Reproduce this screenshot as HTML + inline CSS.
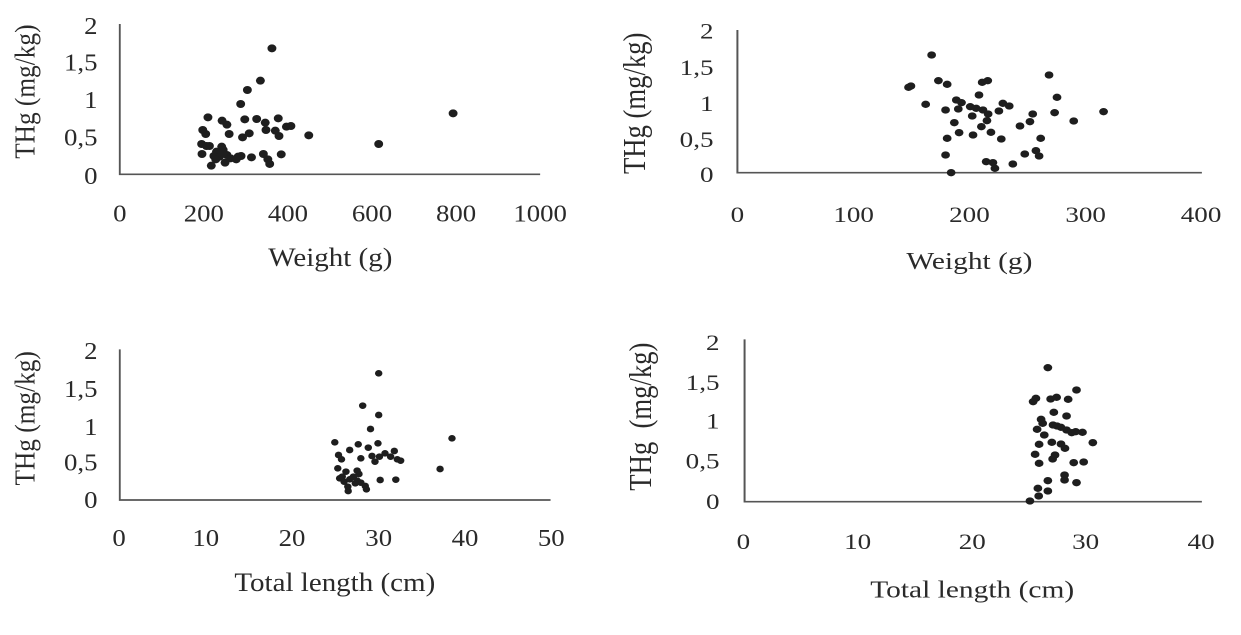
<!DOCTYPE html>
<html><head><meta charset="utf-8"><style>
html,body{margin:0;padding:0;background:#fff;}
svg{display:block;}
text{font-family:"Liberation Serif",serif;fill:#2a2a2a;}
.p1 .t,.p3 .t{font-size:72px;}
.p1 .ti,.p3 .ti{font-size:78px;}
.p2 .t,.p4 .t{font-size:68px;}
.p2 .ti,.p4 .ti{font-size:74px;}
.p1 .yt,.p3 .yt{font-size:76px;}
.p2 .yt,.p4 .yt{font-size:80px;}
.ax{stroke:#555;stroke-width:5;fill:none;}
circle{fill:#1e1e1e;}
</style></head><body>
<svg width="1241" height="635" viewBox="0 0 1241 635" xmlns="http://www.w3.org/2000/svg">
<!-- Panel 1 -->
<g class="p1" transform="translate(0,0) scale(0.372,0.3333)">
<path class="ax" d="M322 72 V523 H1452"/>
<g class="t" text-anchor="end" dominant-baseline="middle">
<text x="262" y="85">2</text><text x="262" y="195">1,5</text><text x="262" y="308">1</text><text x="262" y="420">0,5</text><text x="262" y="535">0</text></g>
<g class="t" text-anchor="middle" dominant-baseline="middle">
<text x="322" y="648">0</text><text x="548" y="648">200</text><text x="774" y="648">400</text><text x="1000" y="648">600</text><text x="1226" y="648">800</text><text x="1452" y="648">1000</text></g>
<text class="ti" x="888" y="780" text-anchor="middle" dominant-baseline="middle">Weight (g)</text>
<text class="yt" transform="translate(75,275) rotate(-90)" text-anchor="middle" dominant-baseline="middle">THg (mg/kg)</text>
<g>
<circle cx="731" cy="145" r="12"/><circle cx="700" cy="242" r="12"/><circle cx="665" cy="270" r="12"/><circle cx="647" cy="312" r="12"/><circle cx="559" cy="352" r="12"/><circle cx="597" cy="362" r="12"/><circle cx="610" cy="374" r="12"/><circle cx="658" cy="358" r="12"/><circle cx="690" cy="357" r="12"/><circle cx="713" cy="368" r="12"/><circle cx="748" cy="355" r="12"/><circle cx="545" cy="390" r="12"/><circle cx="553" cy="402" r="12"/><circle cx="616" cy="402" r="12"/><circle cx="652" cy="412" r="12"/><circle cx="670" cy="400" r="12"/><circle cx="715" cy="390" r="12"/><circle cx="740" cy="392" r="12"/><circle cx="750" cy="408" r="12"/><circle cx="770" cy="380" r="12"/><circle cx="782" cy="378" r="12"/><circle cx="830" cy="406" r="12"/><circle cx="1018" cy="432" r="12"/><circle cx="1218" cy="340" r="12"/><circle cx="542" cy="432" r="12"/><circle cx="555" cy="438" r="12"/><circle cx="563" cy="438" r="12"/><circle cx="596" cy="440" r="12"/><circle cx="600" cy="450" r="12"/><circle cx="582" cy="455" r="12"/><circle cx="575" cy="468" r="12"/><circle cx="590" cy="470" r="12"/><circle cx="610" cy="465" r="12"/><circle cx="620" cy="475" r="12"/><circle cx="640" cy="470" r="12"/><circle cx="648" cy="468" r="12"/><circle cx="676" cy="472" r="12"/><circle cx="708" cy="462" r="12"/><circle cx="720" cy="478" r="12"/><circle cx="725" cy="492" r="12"/><circle cx="756" cy="463" r="12"/><circle cx="568" cy="497" r="12"/><circle cx="543" cy="462" r="12"/><circle cx="605" cy="488" r="12"/><circle cx="635" cy="478" r="12"/><circle cx="600" cy="460" r="12"/><circle cx="580" cy="478" r="12"/>
</g></g>
<!-- Panel 2 -->
<g class="p2" transform="translate(620,0) scale(0.398,0.3333)">
<path class="ax" d="M295 90 V518 H1462"/>
<g class="t" text-anchor="end" dominant-baseline="middle">
<text x="235" y="100">2</text><text x="235" y="210">1,5</text><text x="235" y="318">1</text><text x="235" y="425">0,5</text><text x="235" y="530">0</text></g>
<g class="t" text-anchor="middle" dominant-baseline="middle">
<text x="295" y="650">0</text><text x="587" y="650">100</text><text x="878" y="650">200</text><text x="1170" y="650">300</text><text x="1460" y="650">400</text></g>
<text class="ti" x="878" y="790" text-anchor="middle" dominant-baseline="middle">Weight (g)</text>
<text class="yt" transform="translate(45,310) rotate(-90)" text-anchor="middle" dominant-baseline="middle">THg (mg/kg)</text>
<g>
<circle cx="783" cy="165" r="11"/><circle cx="731" cy="258" r="11"/><circle cx="800" cy="242" r="11"/><circle cx="822" cy="253" r="11"/><circle cx="910" cy="247" r="11"/><circle cx="924" cy="242" r="11"/><circle cx="1078" cy="225" r="11"/><circle cx="902" cy="285" r="11"/><circle cx="1098" cy="292" r="11"/><circle cx="768" cy="313" r="11"/><circle cx="845" cy="300" r="11"/><circle cx="858" cy="308" r="11"/><circle cx="818" cy="330" r="11"/><circle cx="850" cy="327" r="11"/><circle cx="880" cy="320" r="11"/><circle cx="895" cy="325" r="11"/><circle cx="912" cy="330" r="11"/><circle cx="925" cy="342" r="11"/><circle cx="962" cy="310" r="11"/><circle cx="978" cy="318" r="11"/><circle cx="952" cy="333" r="11"/><circle cx="885" cy="348" r="11"/><circle cx="1037" cy="342" r="11"/><circle cx="1092" cy="338" r="11"/><circle cx="1215" cy="335" r="11"/><circle cx="840" cy="368" r="11"/><circle cx="922" cy="362" r="11"/><circle cx="1030" cy="365" r="11"/><circle cx="1005" cy="378" r="11"/><circle cx="1140" cy="363" r="11"/><circle cx="908" cy="380" r="11"/><circle cx="852" cy="398" r="11"/><circle cx="887" cy="405" r="11"/><circle cx="932" cy="397" r="11"/><circle cx="958" cy="417" r="11"/><circle cx="822" cy="415" r="11"/><circle cx="1057" cy="415" r="11"/><circle cx="818" cy="465" r="11"/><circle cx="1017" cy="462" r="11"/><circle cx="1045" cy="452" r="11"/><circle cx="1053" cy="468" r="11"/><circle cx="920" cy="485" r="11"/><circle cx="937" cy="488" r="11"/><circle cx="942" cy="505" r="11"/><circle cx="987" cy="492" r="11"/><circle cx="832" cy="518" r="11"/><circle cx="725" cy="262" r="11"/>
</g></g>
<!-- Panel 3 -->
<g class="p3" transform="translate(0,320) scale(0.372,0.3333)">
<path class="ax" d="M322 88 V540 H1480"/>
<g class="t" text-anchor="end" dominant-baseline="middle">
<text x="262" y="100">2</text><text x="262" y="215">1,5</text><text x="262" y="328">1</text><text x="262" y="435">0,5</text><text x="262" y="548">0</text></g>
<g class="t" text-anchor="middle" dominant-baseline="middle">
<text x="320" y="662">0</text><text x="553" y="662">10</text><text x="785" y="662">20</text><text x="1018" y="662">30</text><text x="1250" y="662">40</text><text x="1482" y="662">50</text></g>
<text class="ti" x="900" y="795" text-anchor="middle" dominant-baseline="middle">Total length (cm)</text>
<text class="yt" transform="translate(75,295) rotate(-90)" text-anchor="middle" dominant-baseline="middle">THg (mg/kg)</text>
<g>
<circle cx="1018" cy="160" r="10"/><circle cx="975" cy="257" r="10"/><circle cx="1018" cy="285" r="10"/><circle cx="996" cy="327" r="10"/><circle cx="1215" cy="355" r="10"/><circle cx="900" cy="367" r="10"/><circle cx="963" cy="373" r="10"/><circle cx="1016" cy="370" r="10"/><circle cx="940" cy="390" r="10"/><circle cx="990" cy="383" r="10"/><circle cx="1060" cy="393" r="10"/><circle cx="910" cy="405" r="10"/><circle cx="918" cy="418" r="10"/><circle cx="970" cy="415" r="10"/><circle cx="1000" cy="408" r="10"/><circle cx="1008" cy="425" r="10"/><circle cx="1020" cy="410" r="10"/><circle cx="1035" cy="400" r="10"/><circle cx="1050" cy="410" r="10"/><circle cx="1068" cy="418" r="10"/><circle cx="1077" cy="422" r="10"/><circle cx="908" cy="445" r="10"/><circle cx="1183" cy="447" r="10"/><circle cx="930" cy="455" r="10"/><circle cx="960" cy="452" r="10"/><circle cx="965" cy="462" r="10"/><circle cx="913" cy="475" r="10"/><circle cx="925" cy="485" r="10"/><circle cx="940" cy="478" r="10"/><circle cx="950" cy="470" r="10"/><circle cx="960" cy="482" r="10"/><circle cx="970" cy="488" r="10"/><circle cx="982" cy="498" r="10"/><circle cx="935" cy="500" r="10"/><circle cx="936" cy="513" r="10"/><circle cx="985" cy="508" r="10"/><circle cx="1022" cy="480" r="10"/><circle cx="1064" cy="479" r="10"/><circle cx="920" cy="470" r="10"/><circle cx="955" cy="490" r="10"/>
</g></g>
<!-- Panel 4 -->
<g class="p4" transform="translate(620,320) scale(0.398,0.3333)">
<path class="ax" d="M313 58 V545 H1462"/>
<g class="t" text-anchor="end" dominant-baseline="middle">
<text x="250" y="75">2</text><text x="250" y="195">1,5</text><text x="250" y="310">1</text><text x="250" y="430">0,5</text><text x="250" y="552">0</text></g>
<g class="t" text-anchor="middle" dominant-baseline="middle">
<text x="310" y="672">0</text><text x="597" y="672">10</text><text x="885" y="672">20</text><text x="1170" y="672">30</text><text x="1460" y="672">40</text></g>
<text class="ti" x="885" y="815" text-anchor="middle" dominant-baseline="middle">Total length (cm)</text>
<text class="yt" transform="translate(60,290) rotate(-90)" text-anchor="middle" dominant-baseline="middle" xml:space="preserve">THg  (mg/kg)</text>
<g>
<circle cx="1075" cy="143" r="11"/><circle cx="1147" cy="210" r="11"/><circle cx="1045" cy="235" r="11"/><circle cx="1038" cy="245" r="11"/><circle cx="1082" cy="237" r="11"/><circle cx="1097" cy="232" r="11"/><circle cx="1126" cy="238" r="11"/><circle cx="1090" cy="277" r="11"/><circle cx="1122" cy="288" r="11"/><circle cx="1058" cy="298" r="11"/><circle cx="1062" cy="310" r="11"/><circle cx="1048" cy="328" r="11"/><circle cx="1088" cy="315" r="11"/><circle cx="1098" cy="318" r="11"/><circle cx="1108" cy="322" r="11"/><circle cx="1122" cy="330" r="11"/><circle cx="1135" cy="338" r="11"/><circle cx="1145" cy="335" r="11"/><circle cx="1162" cy="337" r="11"/><circle cx="1066" cy="345" r="11"/><circle cx="1053" cy="373" r="11"/><circle cx="1085" cy="367" r="11"/><circle cx="1108" cy="372" r="11"/><circle cx="1118" cy="385" r="11"/><circle cx="1188" cy="368" r="11"/><circle cx="1043" cy="403" r="11"/><circle cx="1093" cy="405" r="11"/><circle cx="1087" cy="417" r="11"/><circle cx="1053" cy="430" r="11"/><circle cx="1140" cy="428" r="11"/><circle cx="1165" cy="426" r="11"/><circle cx="1117" cy="465" r="11"/><circle cx="1117" cy="480" r="11"/><circle cx="1075" cy="482" r="11"/><circle cx="1147" cy="488" r="11"/><circle cx="1050" cy="505" r="11"/><circle cx="1075" cy="513" r="11"/><circle cx="1052" cy="528" r="11"/><circle cx="1030" cy="543" r="11"/>
</g></g>
</svg>
</body></html>
